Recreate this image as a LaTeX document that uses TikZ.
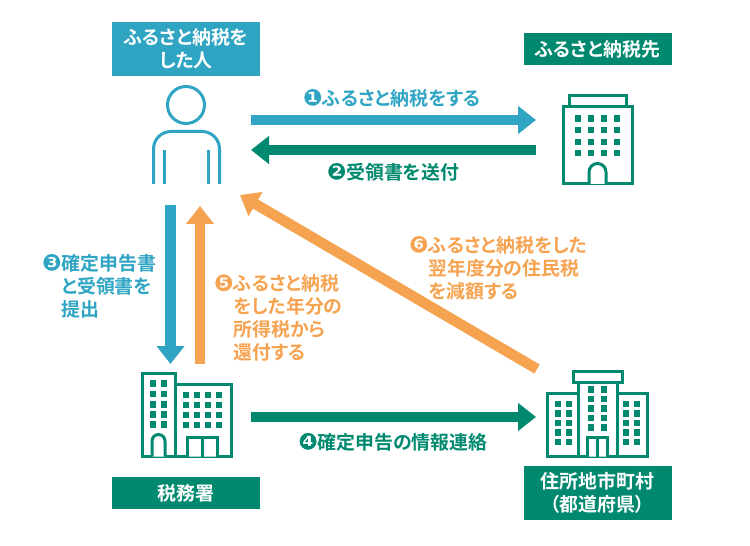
\documentclass[tikz,border=0pt]{standalone}
\usepackage{fontspec}
\setmainfont[RawFeature=+palt,BoldFont={Noto Sans CJK JP Bold}]{Noto Sans CJK JP}
\newfontfamily\markfont[Scale=1.2,FakeBold=1]{DejaVu Sans}
\usetikzlibrary{arrows.meta}
\definecolor{tealblue}{HTML}{2FA5C3}
\definecolor{deepgreen}{HTML}{00896F}
\definecolor{softorange}{HTML}{F5A351}
\tikzset{
  titlebox/.style={fill=#1,text=white,minimum width=148bp,inner sep=0pt,align=center,font=\fontsize{18.9bp}{23bp}\selectfont\bfseries},
  steplabel/.style={text=#1,inner sep=0pt,align=left,font=\fontsize{18.9bp}{23bp}\selectfont\bfseries},
  flowarrow/.style={#1,line width=10.5bp,-{Triangle[length=18bp,width=27bp]}},
  outline/.style={draw=#1,line width=3bp,fill=white,line join=miter},
}
\newcommand{\stepmark}[1]{{\markfont #1}}
\newcommand{\windowgrid}[3]{%
  \foreach \wx in {#2} \foreach \wy in {#3}
    \fill [#1] (\wx-3.2,\wy-3.2) rectangle (\wx+3.2,\wy+3.2);}
\begin{document}
\begin{tikzpicture}[x=1bp,y=-1bp]
        \useasboundingbox (0,0) rectangle (750,546);
        %% title boxes
        \node (donor) at (186,49) [titlebox=tealblue,minimum height=54bp] {ふるさと納税を\\した人};
        \node (dest) at (597.5,49) [titlebox=deepgreen,minimum height=32bp] {ふるさと納税先};
        \node (office) at (186,493) [titlebox=deepgreen,minimum height=32bp] {税務署};
        \node (city) at (597.5,493) [titlebox=deepgreen,minimum height=54bp] {住所地市町村\\（都道府県）};
        %% arrow ends
        \coordinate (a1s) at (251,120);
        \coordinate (a1e) at (536,120);
        \coordinate (a2s) at (536,150);
        \coordinate (a2e) at (251,150);
        \coordinate (a3s) at (170.5,205);
        \coordinate (a3e) at (170.5,364);
        \coordinate (a4s) at (251,417);
        \coordinate (a4e) at (536,417);
        \coordinate (a5s) at (200,364);
        \coordinate (a5e) at (200,206);
        \coordinate (a6s) at (537,369);
        \coordinate (a6e) at (240,195);
        \draw [flowarrow=tealblue] (a1s) -- (a1e);
        \draw [flowarrow=deepgreen] (a2s) -- (a2e);
        \draw [flowarrow=tealblue] (a3s) -- (a3e);
        \draw [flowarrow=deepgreen] (a4s) -- (a4e);
        \draw [flowarrow=softorange] (a5s) -- (a5e);
        \draw [flowarrow=softorange] (a6s) -- (a6e);
        %% labels
        \node (l1) at (392,98) [steplabel=tealblue] {\stepmark{❶}ふるさと納税をする};
        \node (l2) at (393,172) [steplabel=deepgreen] {\stepmark{❷}受領書を送付};
        \node (l3) at (42,286) [steplabel=tealblue,anchor=west] {\stepmark{❸}確定申告書\\\phantom{\stepmark{❸}}と受領書を\\\phantom{\stepmark{❸}}提出};
        \node (l4) at (393,442) [steplabel=deepgreen] {\stepmark{❹}確定申告の情報連絡};
        \node (l5) at (214,318) [steplabel=softorange,anchor=west] {\stepmark{❺}ふるさと納税\\\phantom{\stepmark{❺}}をした年分の\\\phantom{\stepmark{❺}}所得税から\\\phantom{\stepmark{❺}}還付する};
        \node (l6) at (409,268) [steplabel=softorange,anchor=west] {\stepmark{❻}ふるさと納税をした\\\phantom{\stepmark{❻}}翌年度分の住民税\\\phantom{\stepmark{❻}}を減額する};
        %% person
        \draw [tealblue,line width=3bp] (186,105) circle (18.5);
        \draw [tealblue,line width=3bp] (153.5,184) -- (153.5,149) arc (180:270:17.5) -- (202,131.5) arc (270:360:17.5) -- (219.5,184);
        \draw [tealblue,line width=3bp] (164,150) -- (164,184) (208,150) -- (208,184);
        %% one tower
        \draw [outline=deepgreen] (569,95.5) rectangle (626,106.5);
        \draw [outline=deepgreen] (563,106.5) rectangle (632,184);
        \windowgrid{deepgreen}{578,591,604,617}{118.7,130.3,142,153.3}
        \draw [outline=deepgreen] (589,184) -- (589,172) arc (180:360:8.5) -- (606,184);
        %% tax office
        \draw [outline=deepgreen] (175,384) rectangle (231,456.5);
        \draw [outline=deepgreen] (142,373) rectangle (175,456.5);
        \windowgrid{deepgreen}{152.7,163.7}{383.3,394,404.3,414.3,424.3}
        \windowgrid{deepgreen}{186,197,208,219}{395,405,415,425}
        \draw [outline=deepgreen] (152,456.5) -- (152,441) arc (180:360:6.5) -- (165,456.5);
        \draw [outline=deepgreen] (187.5,456.5) -- (187.5,437.5) -- (217.5,437.5) -- (217.5,456.5) (202.5,437.5) -- (202.5,456.5);
        %% city hall
        \draw [outline=deepgreen] (547.5,393.5) rectangle (578,456.5);
        \draw [outline=deepgreen] (617,393.5) rectangle (647.5,456.5);
        \draw [outline=deepgreen] (578,382.5) rectangle (617,456.5);
        \draw [outline=deepgreen] (573,371.5) rectangle (622,382.5);
        \windowgrid{deepgreen}{591,604}{389.3,399,408.3,417.7,427.3}
        \windowgrid{deepgreen}{557.7,568.7,626,637}{404,413.3,422.7,432.3,441.7}
        \draw [outline=deepgreen] (587.5,456.5) -- (587.5,437.5) -- (607.5,437.5) -- (607.5,456.5) (597.5,437.5) -- (597.5,456.5);
        %
    \end{tikzpicture}
\end{document}
